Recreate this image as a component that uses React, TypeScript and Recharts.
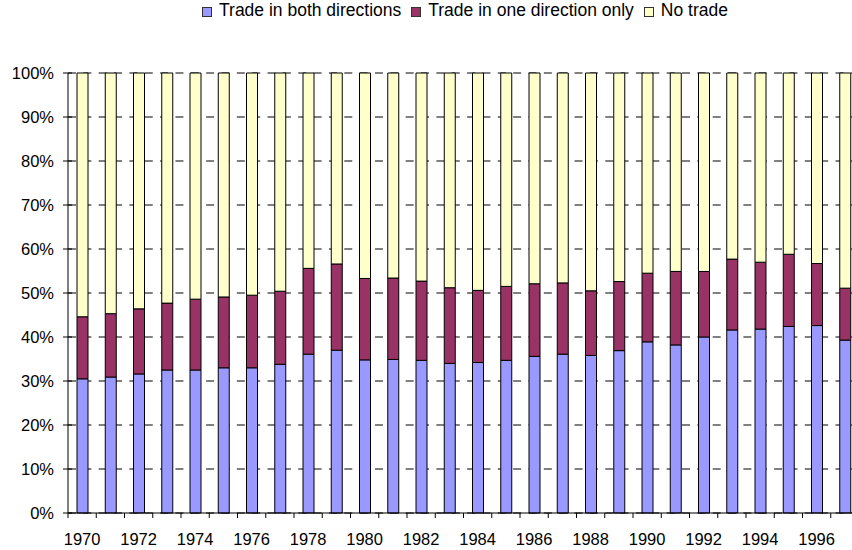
import React from 'react';
import { BarChart, Bar, XAxis, YAxis, CartesianGrid, Legend } from 'recharts';

const years = [
  1970, 1971, 1972, 1973, 1974, 1975, 1976, 1977, 1978, 1979,
  1980, 1981, 1982, 1983, 1984, 1985, 1986, 1987, 1988, 1989,
  1990, 1991, 1992, 1993, 1994, 1995, 1996, 1997,
];

// shares in percent
const bothDirections = [
  30.5, 30.9, 31.6, 32.5, 32.5, 33.0, 33.0, 33.8, 36.1, 37.0,
  34.8, 34.9, 34.7, 34.0, 34.2, 34.7, 35.6, 36.1, 35.8, 36.9,
  38.9, 38.2, 40.0, 41.6, 41.8, 42.4, 42.6, 39.3,
];
const oneDirection = [
  14.1, 14.4, 14.8, 15.2, 16.1, 16.1, 16.5, 16.6, 19.5, 19.6,
  18.5, 18.5, 18.0, 17.2, 16.4, 16.8, 16.5, 16.2, 14.7, 15.7,
  15.6, 16.7, 14.9, 16.1, 15.2, 16.4, 14.1, 11.8,
];
const noTrade = [
  55.4, 54.7, 53.6, 52.3, 51.4, 50.9, 50.5, 49.6, 44.4, 43.4,
  46.7, 46.6, 47.3, 48.8, 49.4, 48.5, 47.9, 47.7, 49.5, 47.4,
  45.5, 45.1, 45.1, 42.3, 43.0, 41.2, 43.3, 48.9,
];
const yTicks = [0, 10, 20, 30, 40, 50, 60, 70, 80, 90, 100];

const series = [
  { key: 'both', name: 'Trade in both directions', color: '#9999FF' },
  { key: 'one', name: 'Trade in one direction only', color: '#993366' },
  { key: 'none', name: 'No trade', color: '#FFFFCC' },
];

const data = years.map((year, i) => ({
  year,
  both: bothDirections[i],
  one: oneDirection[i],
  none: noTrade[i],
}));

const FONT = '"Liberation Sans", Arial, sans-serif';
const CHART_W = 862;
const CHART_H = 550;
const Y_AXIS_W = 68;
const MARGIN_RIGHT = 3;
const HALF_BAND = (CHART_W - Y_AXIS_W - MARGIN_RIGHT) / years.length / 2;

const XTick = (props: any) => {
  const { x, y, payload, index } = props;
  return (
    <g>
      <line x1={x - HALF_BAND} x2={x - HALF_BAND} y1={y} y2={y + 5} stroke="#000" />
      {index % 2 === 0 && (
        <text x={x} y={y + 32} textAnchor="middle" fontSize={16.5} fontFamily={FONT} fill="#000">
          {payload.value}
        </text>
      )}
    </g>
  );
};

const YTick = (props: any) => {
  const { x, y, payload } = props;
  const axisX = x + 14;
  return (
    <g>
      <line x1={axisX - 5} x2={axisX + 4} y1={y} y2={y} stroke="#000" />
      <text x={x} y={y + 6} textAnchor="end" fontSize={16.5} fontFamily={FONT} fill="#000">
        {payload.value}%
      </text>
    </g>
  );
};

const LegendContent = () => (
  <div
    style={{
      display: 'flex',
      justifyContent: 'center',
      alignItems: 'center',
      fontFamily: FONT,
      fontSize: 17.5,
      color: '#000',
    }}
  >
    {series.map((s, i) => (
      <div
        key={s.key}
        style={{ display: 'flex', alignItems: 'center', marginRight: i < series.length - 1 ? 10 : 0 }}
      >
        <span
          style={{
            display: 'inline-block',
            width: 8,
            height: 8,
            background: s.color,
            border: '1px solid #333',
            marginRight: 7,
            marginTop: 3,
          }}
        />
        <span>{s.name}</span>
      </div>
    ))}
  </div>
);

export default function App() {
  return (
    <div style={{ position: 'absolute', left: 0, top: 0, width: 852, height: 550, overflow: 'hidden', background: '#fff' }}>
      <BarChart
        width={CHART_W}
        height={CHART_H}
        data={data}
        margin={{ top: 73, right: MARGIN_RIGHT, bottom: 0, left: 0 }}
      >
        <CartesianGrid vertical={false} stroke="#000" strokeDasharray="8 7.35" />
        <XAxis
          dataKey="year"
          interval={0}
          height={37}
          tickSize={0}
          tickLine={false}
          tickMargin={0}
          axisLine={{ stroke: '#000' }}
          tick={<XTick />}
        />
        <YAxis
          width={Y_AXIS_W}
          domain={[0, 100]}
          ticks={yTicks}
          tickSize={0}
          tickLine={false}
          tickMargin={14}
          axisLine={{ stroke: '#000' }}
          tick={<YTick />}
        />
        <Legend
          layout="horizontal"
          verticalAlign="middle"
          align="center"
          wrapperStyle={{ top: 0, left: 0, width: 930 }}
          content={<LegendContent />}
        />
        {series.map((s) => (
          <Bar
            key={s.key}
            dataKey={s.key}
            name={s.name}
            stackId="a"
            fill={s.color}
            stroke="#000"
            strokeWidth={1}
            barSize={11}
            isAnimationActive={false}
          />
        ))}
      </BarChart>
    </div>
  );
}
